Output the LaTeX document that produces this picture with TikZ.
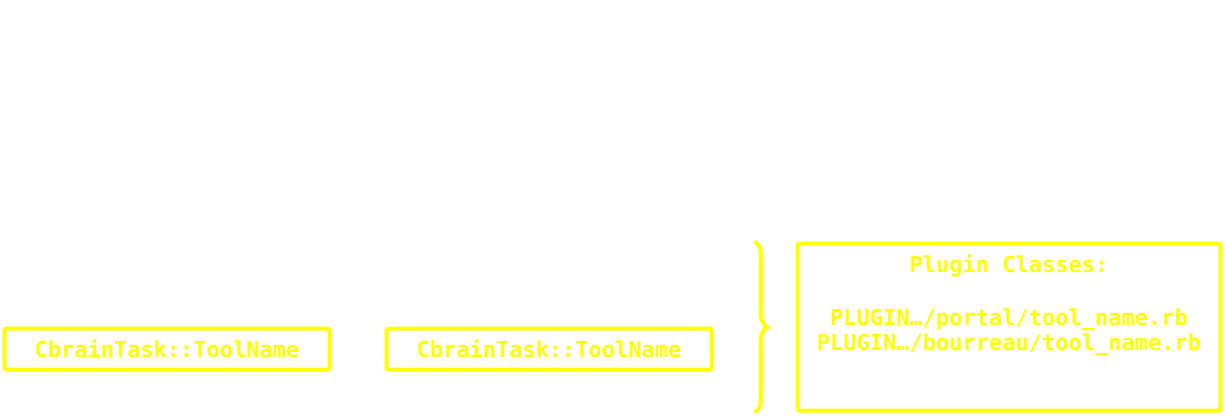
\documentclass[tikz,border=0pt]{standalone}
\usepackage{fontspec}
\setmonofont{DejaVu Sans Mono}
\usetikzlibrary{positioning,decorations.pathreplacing}
\definecolor{hlyellow}{RGB}{255,255,0}
\begin{document}
\begin{tikzpicture}[x=1pt,y=1pt,
    ybox/.style={draw=hlyellow,line width=4pt,rounded corners=2pt,minimum height=41pt,inner sep=0pt},
    ytext/.style={text=hlyellow,font=\ttfamily\bfseries\fontsize{22}{24.5}\selectfont},
    ybrace/.style={draw=hlyellow,line width=4pt,decorate,decoration={brace,amplitude=13pt}},
    node distance=53pt
    ]
    \fill[white] (0,0) rectangle (1226,416);
    \useasboundingbox (0,0) rectangle (1226,416);
    \node[ybox,ytext,minimum width=325pt] (task1) at (167,67) {CbrainTask::ToolName};
    \node[ybox,ytext,minimum width=325pt,right=of task1] (task2) {CbrainTask::ToolName};
    \node[ybox,minimum width=423pt,minimum height=167pt] (plug) at (1009,89) {};
    \node[ytext,align=center,inner sep=0pt,below=13pt of plug.north] (plugtxt)
        {Plugin Classes:\\[28.5pt]PLUGIN…/portal/tool\_name.rb\\PLUGIN…/bourreau/tool\_name.rb};
    \coordinate[left=41pt of plug.north west] (brtop);
    \coordinate[left=41pt of plug.south west] (brbot);
    \draw[ybrace] (brtop) -- (brbot);
\end{tikzpicture}
\end{document}
